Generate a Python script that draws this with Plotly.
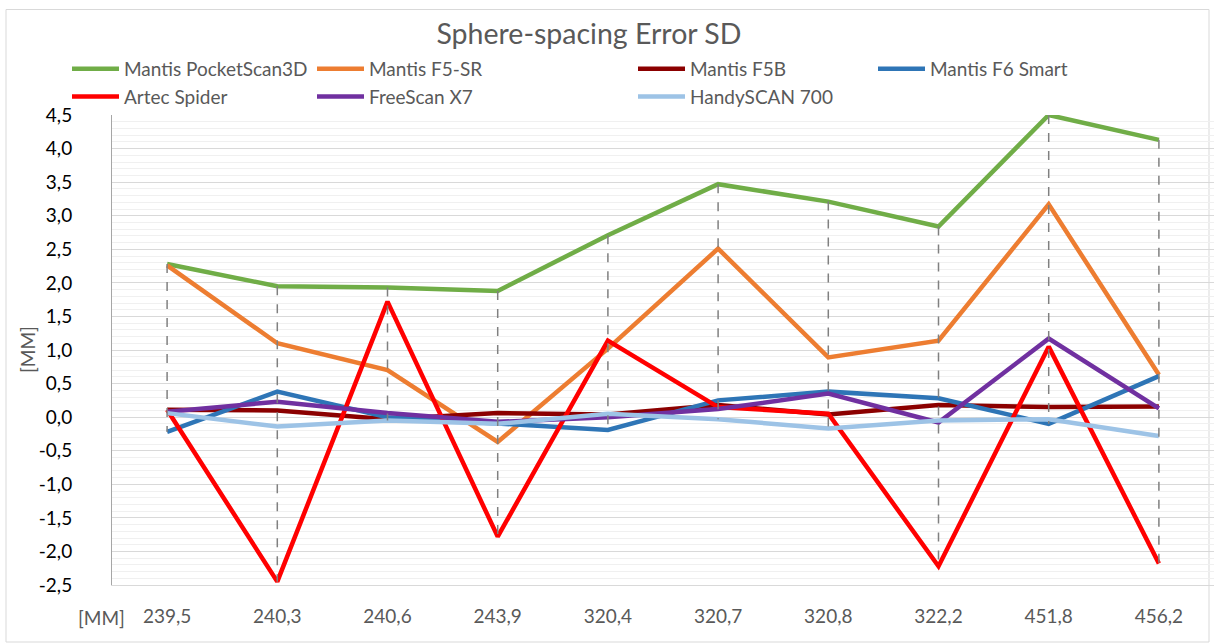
import plotly.graph_objects as go

categories = ["239,5", "240,3", "240,6", "243,9", "320,4", "320,7", "320,8", "322,2", "451,8", "456,2"]

pocketscan3d = [2.28, 1.95, 1.93, 1.88, 2.71, 3.47, 3.21, 2.84, 4.50, 4.13]
f5_sr        = [2.26, 1.10, 0.70, -0.37, 1.02, 2.51, 0.89, 1.14, 3.17, 0.63]
f5b          = [0.11, 0.10, -0.03, 0.06, 0.04, 0.18, 0.04, 0.18, 0.15, 0.16]
f6_smart     = [-0.22, 0.38, 0.00, -0.09, -0.19, 0.25, 0.38, 0.28, -0.10, 0.61]
artec_spider = [0.11, -2.45, 1.72, -1.78, 1.14, 0.15, 0.05, -2.22, 1.05, -2.18]
freescan_x7  = [0.08, 0.23, 0.06, -0.07, 0.00, 0.12, 0.35, -0.08, 1.17, 0.13]
handyscan700 = [0.06, -0.14, -0.05, -0.10, 0.05, -0.03, -0.17, -0.05, -0.03, -0.28]

y_tick_values = [4.5, 4.0, 3.5, 3.0, 2.5, 2.0, 1.5, 1.0, 0.5, 0.0, -0.5, -1.0, -1.5, -2.0, -2.5]
y_tick_labels = ["4,5", "4,0", "3,5", "3,0", "2,5", "2,0", "1,5", "1,0", "0,5", "0,0",
                 "-0,5", "-1,0", "-1,5", "-2,0", "-2,5"]

series = [
    ("Mantis PocketScan3D", pocketscan3d, "#70ad47", "legend"),
    ("Mantis F5-SR", f5_sr, "#ed7d31", "legend2"),
    ("Mantis F5B", f5b, "#8b0000", "legend3"),
    ("Mantis F6 Smart", f6_smart, "#2e75b6", "legend4"),
    ("Artec Spider", artec_spider, "#ff0000", "legend"),
    ("FreeScan X7", freescan_x7, "#7030a0", "legend2"),
    ("HandySCAN 700", handyscan700, "#9dc3e6", "legend3"),
]

W, H = 1214, 644
FONT = "Lato, 'Open Sans', sans-serif"
GRAY = "#595959"

fig = go.Figure()
for name, vals, color, lg in series:
    fig.add_trace(go.Scatter(x=categories, y=vals, name=name, mode="lines",
                             line=dict(color=color, width=4.5), legend=lg))

# high-low lines
hx, hy = [], []
all_vals = [s[1] for s in series]
for i, c in enumerate(categories):
    col = [v[i] for v in all_vals]
    hx += [c, c, None]
    hy += [max(col), min(col), None]
fig.add_trace(go.Scatter(x=hx, y=hy, mode="lines", showlegend=False, hoverinfo="skip",
                         line=dict(color="#808080", width=1.5, dash="dash")))

def leg(xpx, ypx):
    return dict(xref="container", yref="container", x=xpx / W, y=1 - ypx / H,
                xanchor="left", yanchor="top", orientation="v",
                font=dict(family=FONT, size=19, color=GRAY),
                bgcolor="rgba(0,0,0,0)", itemwidth=47, tracegroupgap=0)

fig.update_layout(
    width=W, height=H,
    margin=dict(l=112, r=0, t=115, b=59, autoexpand=False),
    paper_bgcolor="white", plot_bgcolor="white",
    title=dict(text="Sphere-spacing Error SD", x=589 / W, xanchor="center",
               y=1 - 34 / H, yanchor="middle", xref="container", yref="container",
               font=dict(family=FONT, size=28.5, color=GRAY)),
    legend=leg(67, 50),
    legend2=leg(312, 50),
    legend3=leg(633, 50),
    legend4=leg(873, 50),
    xaxis=dict(type="category", categoryorder="array", categoryarray=categories,
               range=[-0.5, 9.5], showgrid=False, showline=True, linecolor="#d9d9d9",
               linewidth=1, ticks="", tickfont=dict(family=FONT, size=19, color=GRAY),
               ticklabelstandoff=14, automargin=False),
    yaxis=dict(range=[-2.5, 4.5], tickmode="array", tickvals=y_tick_values, ticktext=y_tick_labels,
               showgrid=True, gridcolor="#d9d9d9", gridwidth=1,
               minor=dict(dtick=0.1, tick0=0, showgrid=True, gridcolor="#f0f0f0", gridwidth=1),
               zeroline=False, showline=True, linecolor="#a6a6a6", linewidth=1,
               ticks="", tickfont=dict(family=FONT, size=19, color="#000000"),
               ticklabelstandoff=35, automargin=False),
)

# y-axis title
fig.add_annotation(text="[MM]", xref="paper", yref="paper", x=(27 - 112) / 1102, y=(585 - 350) / 470,
                   showarrow=False, textangle=-90, font=dict(family=FONT, size=19, color=GRAY),
                   xanchor="center", yanchor="middle")

# "[MM]" unit label left of the category labels
fig.add_annotation(text="[MM]", xref="paper", yref="paper", x=(101 - 112) / 1102, y=(585 - 617) / 470,
                   showarrow=False, font=dict(family=FONT, size=19, color=GRAY),
                   xanchor="center", yanchor="middle")

# chart border
fig.add_shape(type="rect", xref="paper", yref="paper",
              x0=(6 - 112) / 1102, x1=(1209 - 112) / 1102,
              y0=(585 - 642) / 470, y1=(585 - 9.5) / 470,
              line=dict(color="#d9d9d9", width=1), fillcolor="rgba(0,0,0,0)", layer="below")

fig.write_html("out.html", config={"displayModeBar": False},
               post_script="document.body.style.margin='0';document.body.style.overflow='hidden';")
